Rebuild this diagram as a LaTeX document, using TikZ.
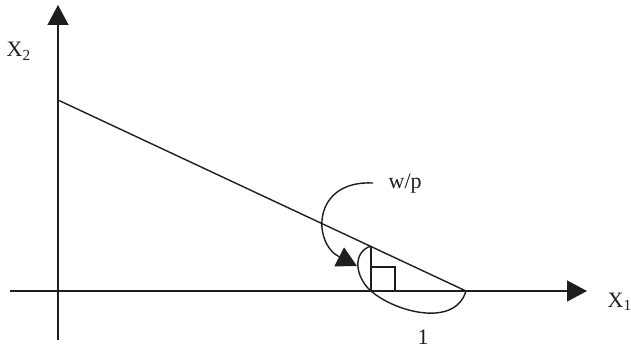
\documentclass[tikz,border=0pt]{standalone}
\usepackage{fontspec}
\setmainfont{Liberation Serif}
\usetikzlibrary{arrows.meta}
\definecolor{Ink}{RGB}{30,30,30}
\begin{document}
\begin{tikzpicture}[x=1pt,y=-1pt,>={Triangle[length=20pt,width=21pt]},line width=1.4pt,draw=Ink,
  every node/.style={font=\fontsize{22}{26}\selectfont,inner sep=0pt,text=Ink}]
\tikzset{axis/.style={->,Ink},budget/.style={Ink}}
\useasboundingbox (0,0) rectangle (631,350);
\coordinate (ybot) at (58,340); \coordinate (ytop) at (58,5);
\coordinate (xleft) at (10,291); \coordinate (xright) at (587,291);
\coordinate (inter2) at (58,100); \coordinate (inter1) at (466,291);
\coordinate (foot) at (371,291); \coordinate (top) at (371,246);
\coordinate (start) at (373,183); \coordinate (tip) at (357,266);
\node[anchor=base west] (lx2) at (6,57) {X\textsubscript{2}};
\node[anchor=base west] (lx1) at (607,307) {X\textsubscript{1}};
\node[anchor=base west] (lwp) at (388,188) {w/p};
\node[anchor=base] (lone) at (423,344) {1};
\draw[axis] (ybot) -- (ytop); \draw[axis] (xleft) -- (xright);
\draw[budget] (inter2) -- (inter1);
\draw (foot) -- (top); \draw (foot) rectangle ++(24,-24);
\draw (top) .. controls (352,252) and (355,277) .. (foot) .. controls (395,312) and (455,328) .. (inter1);
\draw[->] (start) .. controls (312,180) and (312,243) .. (tip);
\end{tikzpicture}
\end{document}
